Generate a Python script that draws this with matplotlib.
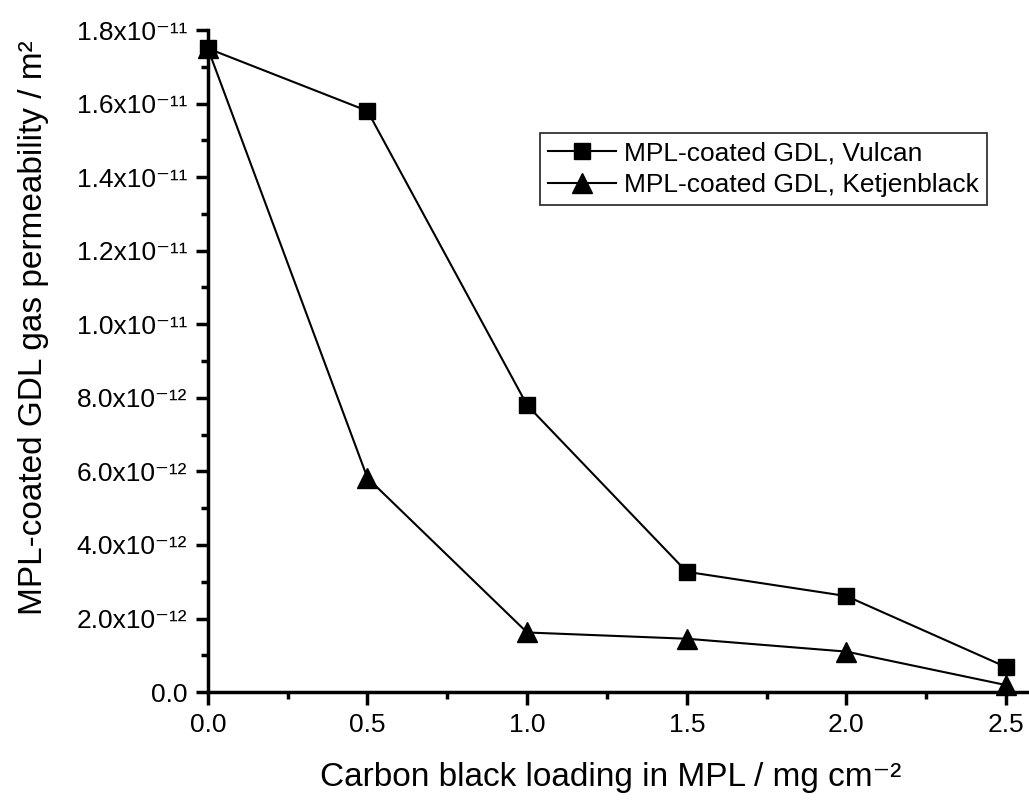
import numpy as np
import matplotlib
matplotlib.use("Agg")
import matplotlib.pyplot as plt
from matplotlib.ticker import FuncFormatter, MultipleLocator

plt.rcParams['font.family'] = ['Liberation Sans', 'DejaVu Sans']

# Data
loading = [0.0, 0.5, 1.0, 1.5, 2.0, 2.5]
vulcan = [1.75e-11, 1.58e-11, 7.8e-12, 3.27e-12, 2.61e-12, 6.8e-13]
ketjen = [1.75e-11, 5.82e-12, 1.62e-12, 1.45e-12, 1.1e-12, 1.9e-13]
y_ticks = [0, 2e-12, 4e-12, 6e-12, 8e-12, 1e-11, 1.2e-11, 1.4e-11, 1.6e-11, 1.8e-11]

SUP = str.maketrans("-0123456789", "⁻⁰¹²³⁴⁵⁶⁷⁸⁹")

def sci_fmt(v, pos):
    if v == 0:
        return "0.0"
    e = int(np.floor(np.log10(abs(v)) + 1e-9))
    m = v / 10**e
    return f"{m:.1f}x10" + str(e).translate(SUP)

fig = plt.figure(figsize=(10.29, 8.01), dpi=100)
ax = fig.add_axes([0.202, 0.136, 0.798, 0.8265])

ax.plot(loading, vulcan, color='black', lw=1.5, marker='s', ms=11,
        label='MPL-coated GDL, Vulcan', clip_on=False, zorder=3)
ax.plot(loading, ketjen, color='black', lw=1.5, marker='^', ms=14,
        label='MPL-coated GDL, Ketjenblack', clip_on=False, zorder=3)

ax.set_xlim(0, 2.572)
ax.set_ylim(0, 1.8e-11)
ax.set_xticks(loading)
ax.xaxis.set_major_formatter(FuncFormatter(lambda v, p: f"{v:.1f}"))
ax.xaxis.set_minor_locator(MultipleLocator(0.25))
ax.set_yticks(y_ticks)
ax.yaxis.set_major_formatter(FuncFormatter(sci_fmt))
ax.yaxis.set_minor_locator(MultipleLocator(1e-12))

for s in ['top', 'right']:
    ax.spines[s].set_visible(False)
for s in ['left', 'bottom']:
    ax.spines[s].set_linewidth(2.5)

ax.tick_params(which='major', direction='out', length=9, width=2.5,
               labelsize=19, pad=6)
ax.tick_params(which='minor', direction='out', length=5, width=2.5)

ax.set_xlabel("Carbon black loading in MPL / mg cm" + "-2".translate(SUP), fontsize=24)
ax.xaxis.set_label_coords(0.49, -0.105)
ax.set_ylabel("MPL-coated GDL gas permeability / m" + "2".translate(SUP), fontsize=24)
ax.yaxis.set_label_coords(-0.194, 0.55)

leg = ax.legend(loc='upper right', bbox_to_anchor=(0.949, 0.844), fontsize=19,
                frameon=True, fancybox=False, edgecolor='black',
                handlelength=2.6, handletextpad=0.3, borderpad=0.3,
                labelspacing=0.3, borderaxespad=0)
leg.get_frame().set_linewidth(1.3)

fig.savefig("out.png", dpi=100)
